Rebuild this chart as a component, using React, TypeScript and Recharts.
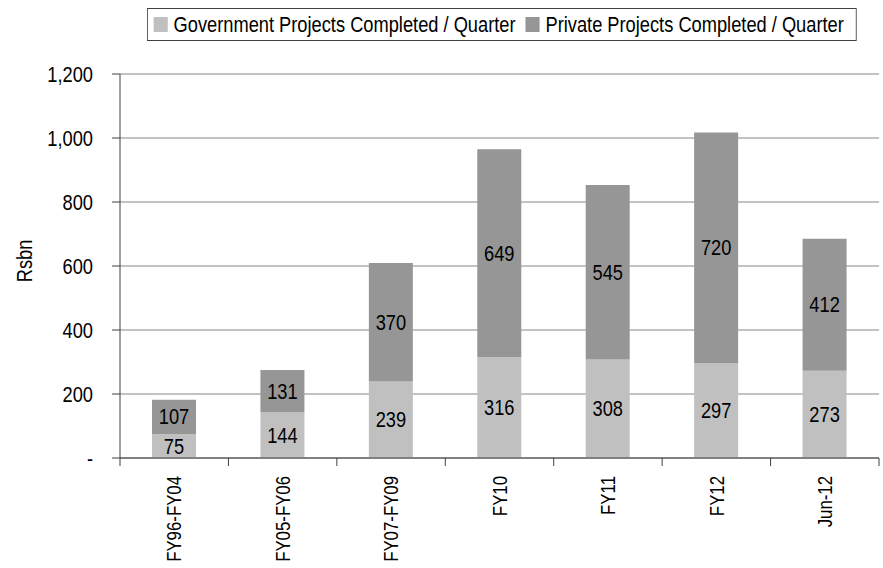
import React from "react";
import {
  BarChart,
  Bar,
  XAxis,
  YAxis,
  CartesianGrid,
  Legend,
  LabelList,
} from "recharts";

const categories = ["FY96-FY04", "FY05-FY06", "FY07-FY09", "FY10", "FY11", "FY12", "Jun-12"];
const governmentValues = [75, 144, 239, 316, 308, 297, 273];
const privateValues = [107, 131, 370, 649, 545, 720, 412];
const yTicks = [0, 200, 400, 600, 800, 1000, 1200];

const GOV = "Government Projects Completed / Quarter";
const PRIV = "Private Projects Completed / Quarter";
const FONT = "'Liberation Sans', Arial, sans-serif";
const SQUEEZE = 0.83; // fake a condensed face

const data = categories.map((c, i) => ({
  name: c,
  gov: governmentValues[i],
  priv: privateValues[i],
}));

const fmtY = (v: number) => (v === 0 ? "-" : v.toLocaleString("en-US"));

// x ticks: rotated label, tick marks sit between categories like Excel
function XTick(props: any) {
  const { x, y, payload, index, visibleTicksCount } = props;
  const half = payload.offset || 0;
  return (
    <g>
      <line x1={x - half} x2={x - half} y1={y - 8} y2={y} stroke="#404040" />
      {index === visibleTicksCount - 1 && (
        <line x1={x + half} x2={x + half} y1={y - 8} y2={y} stroke="#404040" />
      )}
      <text
        transform={`translate(${x}, ${y + 10}) rotate(-90) scale(0.8, 1)`}
        textAnchor="end"
        dominantBaseline="central"
        fontFamily={FONT}
        fontSize={21}
        fill="#000"
      >
        {payload.value}
      </text>
    </g>
  );
}

function YTick(props: any) {
  const { x, y, payload } = props;
  return (
    <text
      transform={`translate(${x}, ${y}) scale(${SQUEEZE}, 1)`}
      textAnchor="end"
      dominantBaseline="central"
      fontFamily={FONT}
      fontSize={22}
      fill="#000"
    >
      {fmtY(payload.value)}
    </text>
  );
}

function YLabel(props: any) {
  const vb = props.viewBox || {};
  const cy = (vb.y || 0) + (vb.height || 0) / 2 - 5;
  return (
    <text
      transform={`translate(24, ${cy}) rotate(-90) scale(${SQUEEZE}, 1)`}
      textAnchor="middle"
      dominantBaseline="central"
      fontFamily={FONT}
      fontSize={22}
      fill="#000"
    >
      Rsbn
    </text>
  );
}

function SegLabel(props: any) {
  const { x, y, width, height, value } = props;
  return (
    <text
      transform={`translate(${x + width / 2}, ${y + height / 2}) scale(${SQUEEZE}, 1)`}
      textAnchor="middle"
      dominantBaseline="central"
      fontFamily={FONT}
      fontSize={22}
      fill="#000"
    >
      {value}
    </text>
  );
}

function LegendBox() {
  const items = [
    { label: GOV, color: "#c0c0c0", gap: 12 },
    { label: PRIV, color: "#969696", gap: 0 },
  ];
  return (
    <div
      style={{
        transform: `scaleX(${SQUEEZE})`,
        transformOrigin: "left top",
        border: "1px solid #404040",
        display: "inline-flex",
        alignItems: "center",
        height: 31,
        padding: "0 14px 0 7px",
        fontFamily: FONT,
        fontSize: 22,
        color: "#000",
        background: "#fff",
        whiteSpace: "nowrap",
      }}
    >
      {items.map((it) => (
        <div key={it.label} style={{ display: "flex", alignItems: "center", marginRight: it.gap }}>
          <div style={{ width: 17, height: 15, background: it.color, marginRight: 7 }} />
          <span>{it.label}</span>
        </div>
      ))}
    </div>
  );
}

export default function App() {
  return (
    <div style={{ position: "absolute", left: 0, top: 0, width: 883, height: 568, background: "#fff" }}>
      <BarChart
        width={883}
        height={568}
        data={data}
        margin={{ top: 74, right: 4, left: 0, bottom: 0 }}
        barSize={44}
      >
        <CartesianGrid vertical={false} stroke="#868686" />
        <XAxis
          dataKey="name"
          height={110}
          interval={0}
          tick={<XTick />}
          tickLine={false}
          axisLine={{ stroke: "#404040" }}
        />
        <YAxis
          width={120}
          domain={[0, 1200]}
          ticks={yTicks}
          tick={<YTick />}
          tickLine={{ stroke: "#404040" }}
          tickSize={8}
          tickMargin={19}
          axisLine={{ stroke: "#404040" }}
          label={<YLabel />}
        />
        <Legend
          verticalAlign="middle"
          align="center"
          content={<LegendBox />}
          wrapperStyle={{ top: 8, left: 147, width: "auto" }}
        />
        <Bar dataKey="gov" name={GOV} stackId="a" fill="#c0c0c0" isAnimationActive={false}>
          <LabelList dataKey="gov" content={<SegLabel />} />
        </Bar>
        <Bar dataKey="priv" name={PRIV} stackId="a" fill="#969696" isAnimationActive={false}>
          <LabelList dataKey="priv" content={<SegLabel />} />
        </Bar>
      </BarChart>
    </div>
  );
}
